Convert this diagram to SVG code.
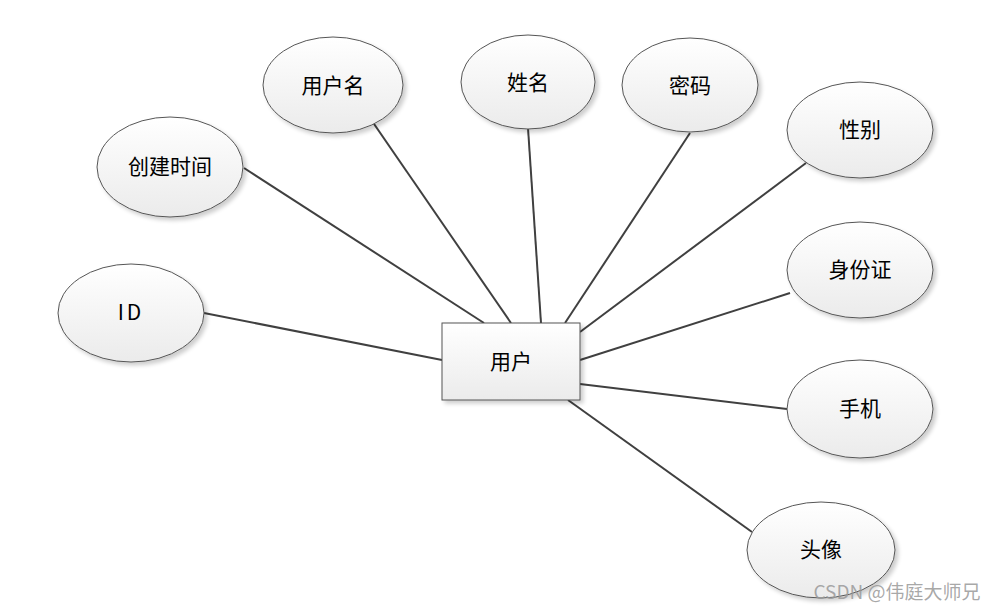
<svg xmlns="http://www.w3.org/2000/svg" width="998" height="610" viewBox="0 0 998 610">
<defs>
<linearGradient id="g" x1="0" y1="0" x2="0" y2="1">
<stop offset="0" stop-color="#ffffff"/>
<stop offset="1" stop-color="#ebebeb"/>
</linearGradient>
<filter id="sh" x="-10%" y="-10%" width="130%" height="130%">
<feGaussianBlur in="SourceAlpha" stdDeviation="2"/>
<feOffset dx="3" dy="3"/>
<feComponentTransfer><feFuncA type="linear" slope="0.2"/></feComponentTransfer>
<feMerge><feMergeNode/><feMergeNode in="SourceGraphic"/></feMerge>
</filter>
</defs>
<style>
.e{fill:url(#g);stroke:#555;stroke-width:1;filter:url(#sh)}
.t{font-family:"Noto Sans CJK SC","Liberation Sans",sans-serif;font-size:21px;fill:#000;text-anchor:middle;dominant-baseline:central}
.c line{stroke:#404040;stroke-width:2}
</style>
<rect width="998" height="610" fill="#fff"/>
<g class="c" id="connectors">
<line x1="204" y1="313" x2="442" y2="360"/>
<line x1="244" y1="168" x2="484" y2="323"/>
<line x1="372" y1="121" x2="511" y2="323"/>
<line x1="528" y1="128" x2="541" y2="323"/>
<line x1="690" y1="133" x2="565" y2="323"/>
<line x1="806" y1="163" x2="580" y2="332"/>
<line x1="790" y1="293" x2="580" y2="360"/>
<line x1="787" y1="409" x2="580" y2="384"/>
<line x1="752" y1="532" x2="568" y2="400"/>
</g>
<g id="user"><rect x="442" y="323" width="138" height="77" class="e"/><text x="511" y="360" class="t">用户</text></g>
<g id="username"><ellipse cx="333" cy="85" rx="70" ry="48" class="e"/><text x="333" y="84" class="t">用户名</text></g>
<g id="name"><ellipse cx="528" cy="82" rx="67" ry="47" class="e"/><text x="528" y="81" class="t">姓名</text></g>
<g id="password"><ellipse cx="690" cy="85" rx="68" ry="47" class="e"/><text x="690" y="84" class="t">密码</text></g>
<g id="gender"><ellipse cx="860" cy="130" rx="73" ry="48" class="e"/><text x="860" y="128" class="t">性别</text></g>
<g id="created"><ellipse cx="170" cy="167" rx="73" ry="50" class="e"/><text x="170" y="165" class="t">创建时间</text></g>
<g id="idcard"><ellipse cx="860" cy="270" rx="73" ry="48" class="e"/><text x="860" y="268" class="t">身份证</text></g>
<g id="id"><ellipse cx="131" cy="313" rx="73" ry="49" class="e"/><text x="131" y="311" class="t" letter-spacing="3">ID</text></g>
<g id="phone"><ellipse cx="860" cy="409" rx="73" ry="49" class="e"/><text x="860" y="407" class="t">手机</text></g>
<g id="avatar"><ellipse cx="821" cy="550" rx="74" ry="48" class="e"/><text x="821" y="548" class="t">头像</text></g>
<text x="897" y="590" font-family="Noto Sans CJK SC, Liberation Sans, sans-serif" font-size="19" fill="#999999" fill-opacity="0.85" text-anchor="middle" dominant-baseline="central">CSDN @伟庭大师兄</text>
</svg>
